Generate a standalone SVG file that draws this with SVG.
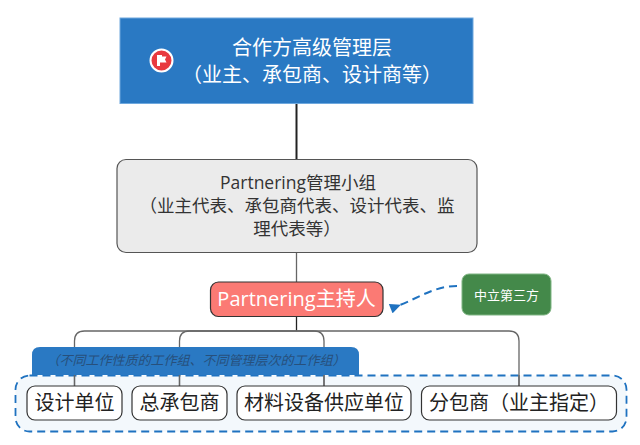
<svg xmlns="http://www.w3.org/2000/svg" width="640" height="445" viewBox="0 0 640 445">
<style>
text{font-family:"Open Sans","Noto Sans CJK SC",sans-serif;text-anchor:middle}
.conn{fill:none;stroke:#666;stroke-width:1.3}
.dark{fill:none;stroke:#222;stroke-width:1.3}
.leaf{fill:#fff;stroke:#333;stroke-width:1.2}
.leaft{font-size:20px;fill:#222}
</style>
<defs><marker id="ah" markerWidth="12" markerHeight="10" refX="1" refY="5" orient="auto" markerUnits="userSpaceOnUse"><path d="M11 0L0 5L11 10Z" fill="#1f72c0"/></marker></defs>
<g id="dashed-region"><rect x="15.500" y="375.500" width="611" height="56" rx="14" fill="#f3f8fc" stroke="#1f72c0" stroke-width="1.800" stroke-dasharray="8 5"/></g>
<g id="connectors">
<path d="M296.500 103V159" fill="none" stroke="#222" stroke-width="2"/>
<path class="conn" d="M296.500 252V282"/>
<path class="dark" d="M296.500 316V331"/>
<path class="conn" d="M74.500 386V341Q74.500 331 84.500 331H509Q519 331 519 341V386"/>
<path class="conn" d="M179.500 386V341Q179.500 331 189.500 331H314Q324 331 324 341V386"/>
<path d="M457 286C435 286 420 297 400 305" fill="none" stroke="#1f72c0" stroke-width="2" stroke-dasharray="8 5" marker-end="url(#ah)"/>
</g>
<g id="top"><rect x="120" y="18" width="353" height="85.500" fill="#2a79c3" stroke="#6ea8de"/>
<circle cx="161.500" cy="60.500" r="11" fill="#e8393f" stroke="#fff" stroke-width="2"/><path d="M157 55H162V56.500H166.500L165 59.500L166.500 62.500H160V66H157Z" fill="#fff"/>
<text x="312" y="54.500" font-size="20" fill="#fff">合作方高级管理层</text><text x="312" y="81.500" font-size="20" fill="#fff">（业主、承包商、设计商等）</text></g>
<g id="mgmt"><rect x="117" y="159.500" width="360" height="93" rx="9" fill="#ebebeb" stroke="#555" stroke-width="1.200"/>
<text x="298" y="189" font-size="17.500" fill="#333">Partnering管理小组</text><text x="297" y="212" font-size="17.500" fill="#333">（业主代表、承包商代表、设计代表、监</text><text x="297" y="235" font-size="17.500" fill="#333">理代表等）</text></g>
<g id="host"><rect x="210.500" y="282" width="172.500" height="34.500" rx="8" fill="#fb7a74" stroke="#333" stroke-width="1.200"/><text x="296.500" y="305.500" font-size="20" fill="#fff">Partnering主持人</text></g>
<g id="third"><rect x="462" y="274" width="89" height="41" rx="7" fill="#44894a" stroke="#7fb583"/><text x="506.500" y="300" font-size="13" fill="#fff">中立第三方</text></g>
<g id="tab"><path d="M32 375V355Q32 347 40 347H351Q359 347 359 355V375Z" fill="#2a79c3"/><text x="196" y="365" font-size="13" font-style="italic" fill="#27507c">（不同工作性质的工作组、不同管理层次的工作组）</text></g>
<path d="M74.500 375V386M179.500 375V386M324 375V386M519 375V386" class="conn"/>
<g id="n1"><rect class="leaf" x="27" y="386" width="95" height="34" rx="8"/><text class="leaft" x="74.500" y="410">设计单位</text></g>
<g id="n2"><rect class="leaf" x="132" y="386" width="95" height="34" rx="8"/><text class="leaft" x="179.500" y="410">总承包商</text></g>
<g id="n3"><rect class="leaf" x="237" y="386" width="174" height="34" rx="8"/><text class="leaft" x="324" y="410">材料设备供应单位</text></g>
<g id="n4"><rect class="leaf" x="421.500" y="386" width="195" height="34" rx="8"/><text class="leaft" x="519" y="410">分包商（业主指定）</text></g>
</svg>
